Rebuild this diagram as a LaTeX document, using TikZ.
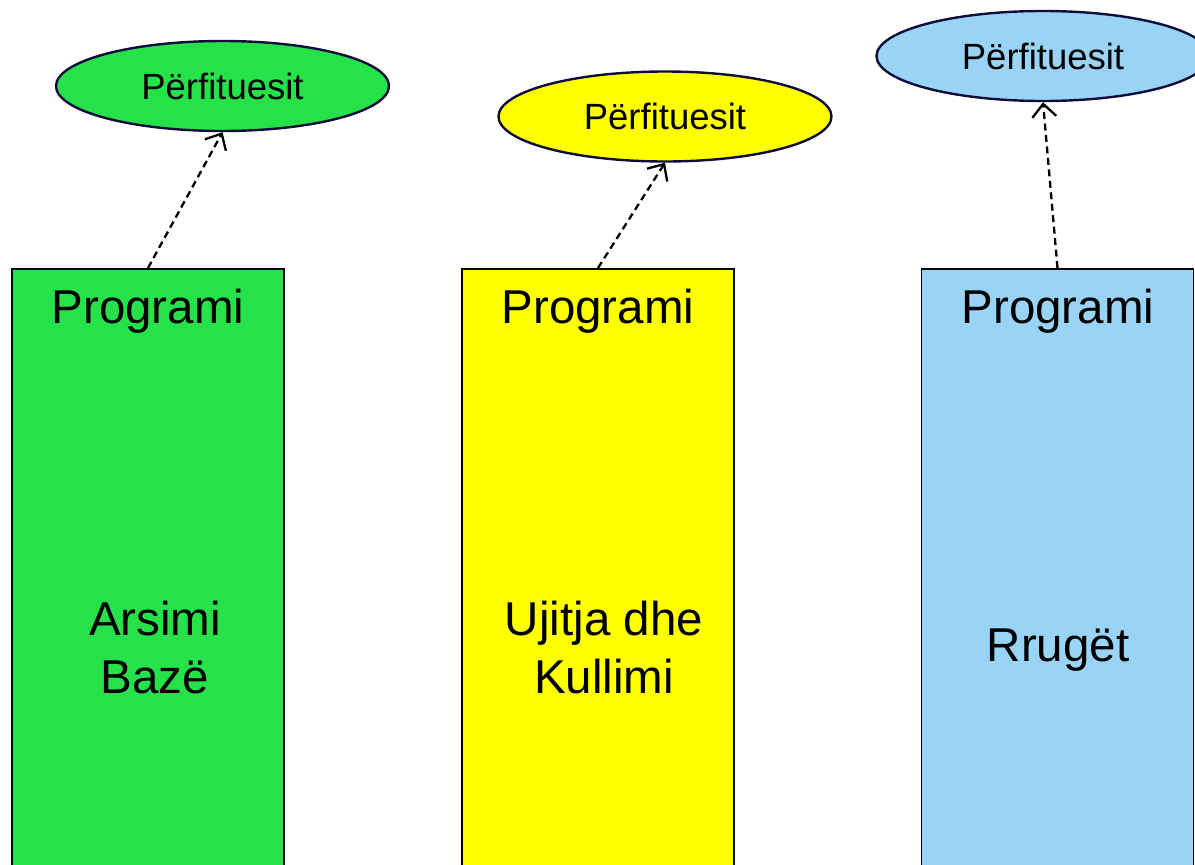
\documentclass[tikz,border=0pt]{standalone}
\usepackage{fontspec}
\setmainfont{Liberation Sans}
\usetikzlibrary{shapes.geometric,arrows.meta}
\definecolor{cgreen}{RGB}{38,226,74}
\definecolor{cyellow}{RGB}{255,255,0}
\definecolor{cblue}{RGB}{153,211,245}
\definecolor{cnavy}{RGB}{14,14,60}
\tikzset{
  progbox/.style={draw=black,line width=1.8pt,anchor=north,minimum width=272pt,minimum height=640pt,inner sep=0pt},
  benef/.style={ellipse,draw=cnavy,line width=2.4pt,minimum width=333pt,minimum height=90pt,inner sep=0pt,font=\fontsize{36.5}{40}\selectfont},
  bigtxt/.style={font=\fontsize{47.5}{58}\selectfont,anchor=base,align=center,inner sep=0pt},
  link/.style={dash pattern=on 7pt off 4.5pt,line width=2.3pt,-{Straight Barb[length=13pt,width=24pt,line width=2.3pt]}}
}
\begin{document}
\begin{tikzpicture}[x=1pt,y=-1pt]
\useasboundingbox[clip] (0,0) rectangle (1195,865);
% boxes
\node[progbox,fill=cgreen] (b1) at (148,268) {};
\node[progbox,fill=cyellow] (b2) at (598,268) {};
\node[progbox,fill=cblue] (b3) at (1057.5,268) {};
% headings
\node[bigtxt] (p1) at (148,323) {Programi};
\node[bigtxt] (p2) at (598,323) {Programi};
\node[bigtxt] (p3) at (1058,323) {Programi};
% names
\node[bigtxt] (n1) at (155,693) {Arsimi\\Bazë};
\node[bigtxt] (n2) at (604,693) {Ujitja dhe\\Kullimi};
\node[bigtxt] (n3) at (1058,661) {Rrugët};
% ellipses
\node[benef,fill=cgreen] (e1) at (222.5,86) {Përfituesit};
\node[benef,fill=cyellow] (e2) at (665,116.5) {Përfituesit};
\node[benef,fill=cblue] (e3) at (1043,56) {Përfituesit};
% links
\draw[link] (b1.north) -- (e1.south);
\draw[link] (b2.north) -- (e2.south);
\draw[link] (b3.north) -- (e3.south);
\end{tikzpicture}
\end{document}
